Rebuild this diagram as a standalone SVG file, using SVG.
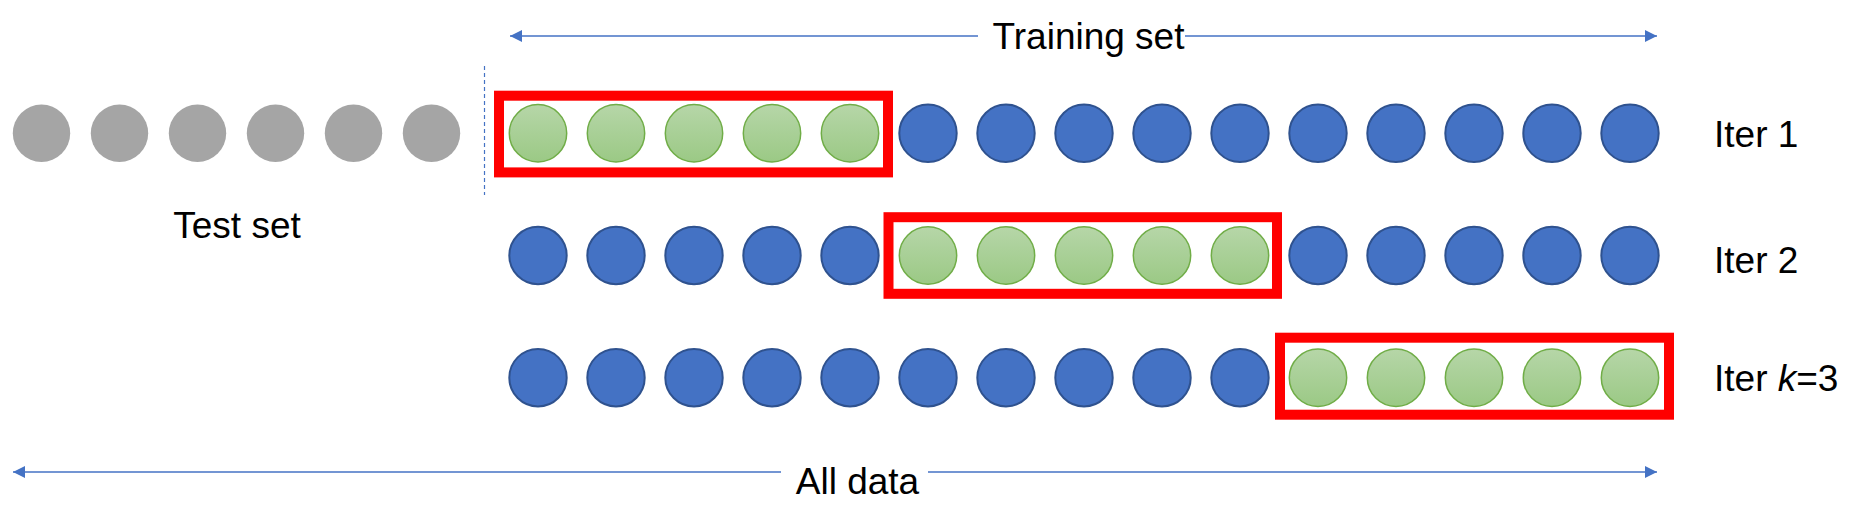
<svg xmlns="http://www.w3.org/2000/svg" width="1865" height="517" viewBox="0 0 1865 517">
<style>
.t{font-family:"Liberation Sans",Arial,sans-serif;font-size:37px;fill:#000}
.gray{fill:#a5a5a5}
.blue{fill:#4472c4;stroke:#2f528f;stroke-width:2}
.green{fill:url(#gg);stroke:#70ad47;stroke-width:1.5}
.fold{fill:none;stroke:#ff0000;stroke-width:10}
.ln{stroke:#4472c4;stroke-width:1.5;fill:none}
.dash{stroke:#4472c4;stroke-width:1.2;stroke-dasharray:4 3;fill:none}
</style>
<defs>
<linearGradient id="gg" x1="0" y1="0" x2="0" y2="1">
<stop offset="0" stop-color="#b6d6a8"/>
<stop offset="1" stop-color="#9bc985"/>
</linearGradient>
<marker id="ah" viewBox="0 0 12 12" refX="12" refY="6" markerWidth="12" markerHeight="12" markerUnits="userSpaceOnUse" orient="auto-start-reverse">
<path d="M0,0 L12,6 L0,12 Z" fill="#4472c4"/>
</marker>
</defs>
<rect width="1865" height="517" fill="#fff"/>

<g id="connectors">
<line class="ln" x1="510" y1="36" x2="978" y2="36" marker-start="url(#ah)"/>
<line class="ln" x1="1185" y1="36" x2="1657" y2="36" marker-end="url(#ah)"/>
<line class="ln" x1="13" y1="472" x2="781" y2="472" marker-start="url(#ah)"/>
<line class="ln" x1="928" y1="472" x2="1657" y2="472" marker-end="url(#ah)"/>
<line class="dash" x1="484.5" y1="66" x2="484.5" y2="195"/>
</g>

<g id="label-training"><text class="t" x="1088.5" y="49" text-anchor="middle">Training set</text></g>
<g id="label-alldata"><text class="t" x="857.5" y="494" text-anchor="middle">All data</text></g>
<g id="label-test"><text class="t" x="237" y="238" text-anchor="middle">Test set</text></g>

<g id="test-set">
<circle class="gray" cx="41.5" cy="133.3" r="28.7"/>
<circle class="gray" cx="119.5" cy="133.3" r="28.7"/>
<circle class="gray" cx="197.5" cy="133.3" r="28.7"/>
<circle class="gray" cx="275.5" cy="133.3" r="28.7"/>
<circle class="gray" cx="353.5" cy="133.3" r="28.7"/>
<circle class="gray" cx="431.5" cy="133.3" r="28.7"/>
</g>

<g id="iter1">
<circle class="green" cx="538" cy="133.3" r="28.7"/>
<circle class="green" cx="616" cy="133.3" r="28.7"/>
<circle class="green" cx="694" cy="133.3" r="28.7"/>
<circle class="green" cx="772" cy="133.3" r="28.7"/>
<circle class="green" cx="850" cy="133.3" r="28.7"/>
<circle class="blue" cx="928" cy="133.3" r="28.7"/>
<circle class="blue" cx="1006" cy="133.3" r="28.7"/>
<circle class="blue" cx="1084" cy="133.3" r="28.7"/>
<circle class="blue" cx="1162" cy="133.3" r="28.7"/>
<circle class="blue" cx="1240" cy="133.3" r="28.7"/>
<circle class="blue" cx="1318" cy="133.3" r="28.7"/>
<circle class="blue" cx="1396" cy="133.3" r="28.7"/>
<circle class="blue" cx="1474" cy="133.3" r="28.7"/>
<circle class="blue" cx="1552" cy="133.3" r="28.7"/>
<circle class="blue" cx="1630" cy="133.3" r="28.7"/>
<rect class="fold" x="499" y="95.7" width="389" height="76.7"/>
<text class="t" x="1714" y="146.7">Iter 1</text>
</g>

<g id="iter2">
<circle class="blue" cx="538" cy="255.5" r="28.7"/>
<circle class="blue" cx="616" cy="255.5" r="28.7"/>
<circle class="blue" cx="694" cy="255.5" r="28.7"/>
<circle class="blue" cx="772" cy="255.5" r="28.7"/>
<circle class="blue" cx="850" cy="255.5" r="28.7"/>
<circle class="green" cx="928" cy="255.5" r="28.7"/>
<circle class="green" cx="1006" cy="255.5" r="28.7"/>
<circle class="green" cx="1084" cy="255.5" r="28.7"/>
<circle class="green" cx="1162" cy="255.5" r="28.7"/>
<circle class="green" cx="1240" cy="255.5" r="28.7"/>
<circle class="blue" cx="1318" cy="255.5" r="28.7"/>
<circle class="blue" cx="1396" cy="255.5" r="28.7"/>
<circle class="blue" cx="1474" cy="255.5" r="28.7"/>
<circle class="blue" cx="1552" cy="255.5" r="28.7"/>
<circle class="blue" cx="1630" cy="255.5" r="28.7"/>
<rect class="fold" x="888.5" y="217.2" width="388.5" height="76.6"/>
<text class="t" x="1714" y="273.3">Iter 2</text>
</g>

<g id="iter3">
<circle class="blue" cx="538" cy="377.7" r="28.7"/>
<circle class="blue" cx="616" cy="377.7" r="28.7"/>
<circle class="blue" cx="694" cy="377.7" r="28.7"/>
<circle class="blue" cx="772" cy="377.7" r="28.7"/>
<circle class="blue" cx="850" cy="377.7" r="28.7"/>
<circle class="blue" cx="928" cy="377.7" r="28.7"/>
<circle class="blue" cx="1006" cy="377.7" r="28.7"/>
<circle class="blue" cx="1084" cy="377.7" r="28.7"/>
<circle class="blue" cx="1162" cy="377.7" r="28.7"/>
<circle class="blue" cx="1240" cy="377.7" r="28.7"/>
<circle class="green" cx="1318" cy="377.7" r="28.7"/>
<circle class="green" cx="1396" cy="377.7" r="28.7"/>
<circle class="green" cx="1474" cy="377.7" r="28.7"/>
<circle class="green" cx="1552" cy="377.7" r="28.7"/>
<circle class="green" cx="1630" cy="377.7" r="28.7"/>
<rect class="fold" x="1280" y="337.7" width="389" height="77"/>
<text class="t" x="1714" y="390.7">Iter <tspan font-style="italic">k</tspan>=3</text>
</g>
</svg>
